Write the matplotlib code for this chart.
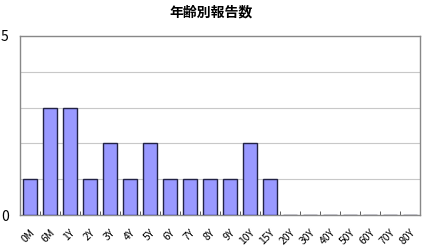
import matplotlib
matplotlib.use("Agg")
import matplotlib.pyplot as plt
import numpy as np

plt.rcParams['font.family'] = ['Noto Sans CJK JP', 'DejaVu Sans']

categories = ["0M", "6M", "1Y", "2Y", "3Y", "4Y", "5Y", "6Y", "7Y", "8Y",
              "9Y", "10Y", "15Y", "20Y", "30Y", "40Y", "50Y", "60Y", "70Y", "80Y"]
counts = [1, 3, 3, 1, 2, 1, 2, 1, 1, 1, 1, 2, 1, 0, 0, 0, 0, 0, 0, 0]
y_ticks = [0, 5]

fig = plt.figure(figsize=(4.22, 2.48), dpi=100)
ax = fig.add_axes([0.047, 0.133, 0.948, 0.722])

x = np.arange(len(categories))
ax.bar(x, counts, width=0.68, color="#9999ff", edgecolor="#222244", linewidth=1.0, zorder=3)

ax.set_xlim(-0.5, len(categories) - 0.5)
ax.set_ylim(0, 5)
ax.set_yticks(y_ticks)
ax.set_yticks([1, 2, 3, 4], minor=True)
ax.yaxis.grid(True, which="minor", color="#c8c8c8", linewidth=0.8, zorder=0)
ax.tick_params(axis="y", which="both", length=0, labelsize=10, pad=8)

ax.set_xticks(x)
ax.set_xticklabels(categories, rotation=45, ha="right", rotation_mode="anchor", fontsize=7.5)
ax.set_xticks(np.arange(len(categories) + 1) - 0.5, minor=True)
ax.tick_params(axis="x", which="major", length=0, pad=9)
ax.tick_params(axis="x", which="minor", direction="in", length=3, color="#444444")

for s in ax.spines.values():
    s.set_color("#888888")
    s.set_linewidth(1.0)

fig.text(0.5, 0.95, "年齢別報告数", ha="center", va="center", fontsize=10, fontweight="bold")

fig.savefig("out.png", dpi=100)
